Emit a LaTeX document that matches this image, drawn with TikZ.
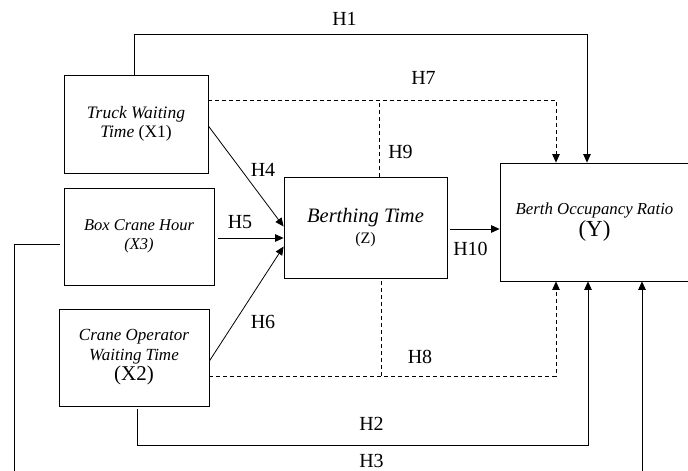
\documentclass[tikz,border=0pt]{standalone}
\usepackage{fontspec}
\setmainfont{Liberation Serif}
\usetikzlibrary{arrows.meta,calc}
\begin{document}
\begin{tikzpicture}[x=1pt,y=-1pt,
  box/.style={draw, line width=0.8pt, inner sep=0pt, align=center},
  conn/.style={line width=0.8pt},
  arr/.style={conn, -{Triangle[length=8.5pt,width=7.5pt]}},
  dsh/.style={dash pattern=on 4pt off 3pt},
  hl/.style={font=\fontsize{20}{22}\selectfont, inner sep=0pt}
]
\useasboundingbox (0,0) rectangle (688,471);
% boxes
\node[box, minimum width=144pt, minimum height=98pt, font=\fontsize{17.5}{19}\selectfont] (x1) at (136,124) {\textit{Truck Waiting}\\\textit{Time} (X1)};
\node[box, minimum width=150pt, minimum height=97pt, font=\fontsize{16.5}{19}\selectfont\itshape] (x3) at (139,236.5) {Box Crane Hour\\(X3)};
\node[box, minimum width=150pt, minimum height=97pt, font=\fontsize{17}{20}\selectfont] (x2) at (134,357.5) {\textit{Crane Operator}\\\textit{Waiting Time}\\{\fontsize{21}{23}\selectfont (X2)}};
\node[box, minimum width=163pt, minimum height=101pt, font=\fontsize{20.5}{20.5}\selectfont] (z) at (365.5,227.5) {\textit{Berthing Time}\\{\fontsize{16}{18}\selectfont (Z)}};
\node[box, minimum width=189pt, minimum height=118pt, font=\fontsize{16.8}{22}\selectfont] (y) at (594.5,222) {\textit{Berth Occupancy Ratio}\\{\fontsize{23}{25}\selectfont (Y)}};
% coordinates
\coordinate (h1top) at (0,34);
\coordinate (h7s) at ([yshift=24pt]x1.east);
\coordinate (h8s) at ([yshift=-18.5pt]x2.east);
\coordinate (h2y) at (0,445);
\coordinate (h3c) at (14,477);
% H1
\draw[arr] ([xshift=-2pt]x1.north) -- ([xshift=-2pt]x1.north |- h1top) -| ([xshift=-7.5pt]y.north);
% H7 and H9
\draw[arr, dsh] (h7s) -| ([xshift=-38.5pt]y.north);
\draw[conn, dsh] ([xshift=13.5pt]z.north) -- ([xshift=13.5pt]z.north |- h7s);
% H4, H5, H6
\draw[arr] ([yshift=-2pt]x1.east) -- ([yshift=1pt]z.west);
\draw[arr, shorten <=4pt] ([yshift=-1.5pt]x3.east) -- ([yshift=-1.5pt]x3.east -| z.west);
\draw[arr] ([yshift=-3.5pt]x2.east) -- ([yshift=-19pt]z.west);
% H10
\draw[arr, shorten <=3pt] ([yshift=-1.5pt]z.east) -- ([yshift=-1.5pt]z.east -| y.west);
% H8
\draw[arr, dsh] (h8s) -| ([xshift=-38.5pt]y.south);
\draw[conn, dsh, shorten <=3pt] ([xshift=15.5pt]z.south) -- ([xshift=15.5pt]z.south |- h8s);
% H2
\draw[arr, shorten <=3pt] ([xshift=3pt]x2.south) -- ([xshift=3pt]x2.south |- h2y) -| ([xshift=-6.5pt]y.south);
% H3
\draw[arr, shorten <=4pt] ([yshift=-7.5pt]x3.west) -| (h3c) -| ([xshift=47.5pt]y.south);
% labels
\node[hl] (lh1) at (344.5,19) {H1};
\node[hl] (lh7) at (423.5,77.5) {H7};
\node[hl] (lh9) at (400.5,151.5) {H9};
\node[hl] (lh4) at (263,170) {H4};
\node[hl] (lh5) at (240,222) {H5};
\node[hl] (lh6) at (263,322) {H6};
\node[hl] (lh10) at (470.5,249) {H10};
\node[hl] (lh8) at (420,356.5) {H8};
\node[hl] (lh2) at (371.5,423.5) {H2};
\node[hl] (lh3) at (371.5,460.5) {H3};
\end{tikzpicture}
\end{document}
